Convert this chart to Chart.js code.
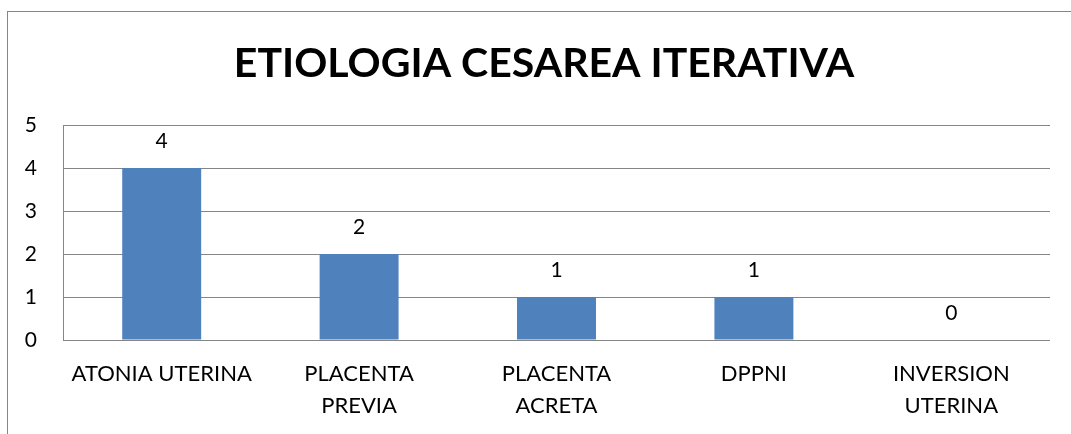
<!DOCTYPE html>
<html>
<head>
<meta charset="utf-8">
<script src="https://cdn.jsdelivr.net/npm/chart.js@4.4.1/dist/chart.umd.min.js"></script>
<style>
  html, body { margin: 0; padding: 0; background: #fff; }
  canvas { display: block; }
</style>
</head>
<body>
<canvas id="cesareaChart" width="1071" height="434"></canvas>
<script>
// data
const categories = [['ATONIA UTERINA'], ['PLACENTA', 'PREVIA'], ['PLACENTA', 'ACRETA'], ['DPPNI'], ['INVERSION', 'UTERINA']];
const casos = [4, 2, 1, 1, 0];
const yTicks = [0, 1, 2, 3, 4, 5];
const chartTitle = 'ETIOLOGIA CESAREA ITERATIVA';

const FONT = 'Lato, "Open Sans", sans-serif';

// outer frame (only top and left edges fall inside the picture) + title
const framePlugin = {
    id: 'frame',
    beforeDraw(chart) {
        const ctx = chart.ctx;
        ctx.save();
        ctx.strokeStyle = '#868686';
        ctx.lineWidth = 1;
        ctx.strokeRect(7.5, 11.5, 1100, 500);
        ctx.font = 'bold 41px ' + FONT;
        ctx.fillStyle = '#000';
        ctx.textAlign = 'center';
        ctx.textBaseline = 'alphabetic';
        ctx.fillText(chartTitle, 544, 77);
        ctx.restore();
    }
};

// value labels above each bar
const valueLabels = {
    id: 'valueLabels',
    afterDatasetsDraw(chart) {
        const ctx = chart.ctx;
        ctx.save();
        ctx.font = '21px ' + FONT;
        ctx.fillStyle = '#000';
        ctx.textAlign = 'center';
        ctx.textBaseline = 'middle';
        chart.getDatasetMeta(0).data.forEach((bar, i) => {
            ctx.fillText(String(casos[i]), bar.x, bar.y - 27);
        });
        ctx.restore();
    }
};

new Chart(document.getElementById('cesareaChart').getContext('2d'), {
    type: 'bar',
    data: {
        labels: categories,
        datasets: [{
            label: 'Casos',
            data: casos,
            backgroundColor: '#4F81BD',
            barPercentage: 0.4,
            categoryPercentage: 1
        }]
    },
    options: {
        responsive: false,
        animation: false,
        layout: { padding: { left: 0, right: 21, top: 125, bottom: 0 } },
        plugins: {
            legend: { display: false },
            tooltip: { enabled: false },
            title: { display: false }
        },
        scales: {
            x: {
                grid: { display: false, drawTicks: false },
                border: { display: false },
                ticks: {
                    color: '#000',
                    font: { family: FONT, size: 22, lineHeight: 1.45 },
                    padding: 18,
                    maxRotation: 0,
                    autoSkip: false
                },
                afterFit(scale) { scale.height = 94; }
            },
            y: {
                min: 0,
                max: 5,
                afterBuildTicks(scale) { scale.ticks = yTicks.map(v => ({ value: v })); },
                grid: { color: '#868686', drawTicks: false },
                border: { display: true, color: '#868686' },
                ticks: {
                    color: '#000',
                    font: { family: FONT, size: 21 },
                    padding: 26
                },
                afterFit(scale) { scale.width = 63; }
            }
        }
    },
    plugins: [framePlugin, valueLabels]
});
</script>
</body>
</html>
